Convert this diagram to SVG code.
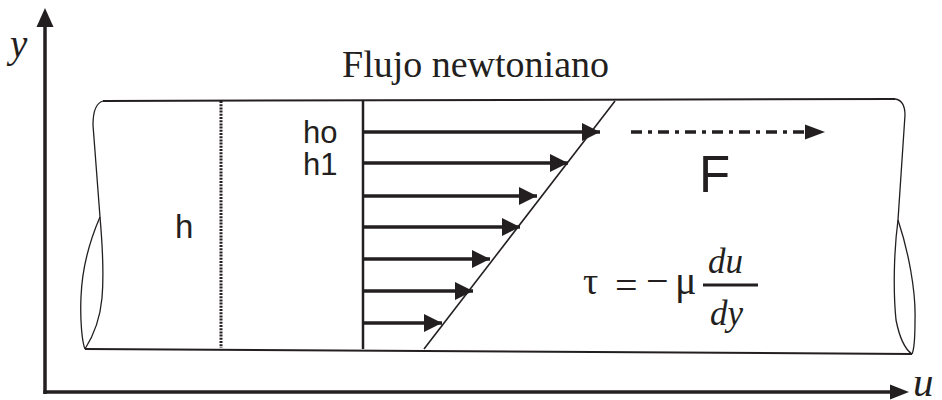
<svg xmlns="http://www.w3.org/2000/svg" width="942" height="400" viewBox="0 0 942 400">
<style>
.ln{fill:none;stroke:#231f20;stroke-linecap:butt}
.thin{stroke-width:1.3}
.ax{stroke-width:3.5}
.vel{stroke-width:3.4}
.sans{font-family:"Liberation Sans",Arial,sans-serif;fill:#231f20}
.serif{font-family:"Liberation Serif","Times New Roman",serif;fill:#231f20}
.it{font-style:italic}
.hd{fill:#231f20}
</style>
<defs>
<marker id="ah" markerUnits="userSpaceOnUse" markerWidth="19" markerHeight="19" refX="18" refY="9" orient="auto">
<path d="M0,0 L18,9 L0,18 Z" fill="#231f20"/>
</marker>
</defs>
<rect width="942" height="400" fill="#fff"/>

<g id="axes">
<line class="ln ax" x1="45" y1="24" x2="45" y2="394"/>
<polygon class="hd" points="45,8 36.5,27 53.5,27"/>
<line class="ln ax" x1="43.3" y1="392" x2="892" y2="392"/>
<polygon class="hd" points="909,392 890,384.5 890,399.5"/>
<text class="serif it" x="10" y="57" font-size="39">y</text>
<text class="serif it" x="913" y="396" font-size="41">u</text>
</g>

<g id="tube">
<path class="ln" stroke-width="2" d="M103,101 L895,99"/>
<path class="ln" stroke-width="2" d="M85,349 L912,354"/>
<path class="ln thin" d="M103,101 C96,103 93,112 93,125 L100,217 C102,240 104,275 102,298 C100,320 92,338 85,349"/>
<path class="ln thin" d="M100,217 C90,240 82,270 81,297 C80,320 82,342 85,349"/>
<path class="ln thin" d="M895,99 C902,100 905,106 905,115 L898,220 C908,250 916,290 915,320 C915,340 914,350 912,354"/>
<path class="ln thin" d="M898,220 C894,250 893,290 896,320 C900,340 906,350 912,354"/>
</g>

<g id="title">
<text class="serif" x="342" y="77" font-size="38">Flujo newtoniano</text>
</g>

<g id="h-line">
<line class="ln" x1="221" y1="101" x2="221" y2="348" stroke-width="3" stroke-dasharray="2 1.2"/>
<text class="sans" x="175" y="238" font-size="33">h</text>
</g>

<g id="profile">
<line class="ln" x1="363" y1="101" x2="363" y2="349" stroke-width="2.5"/>
<line class="ln" x1="615" y1="101" x2="424" y2="349" stroke-width="1.6"/>
<text class="sans" x="303" y="143" font-size="31">ho</text>
<text class="sans" x="303" y="175" font-size="31">h1</text>
</g>

<g id="connectors">
<line class="ln vel" x1="363" y1="132" x2="600" y2="132" marker-end="url(#ah)"/>
<line class="ln vel" x1="363" y1="163" x2="568" y2="163" marker-end="url(#ah)"/>
<line class="ln vel" x1="363" y1="196" x2="537" y2="196" marker-end="url(#ah)"/>
<line class="ln vel" x1="363" y1="227" x2="520" y2="227" marker-end="url(#ah)"/>
<line class="ln vel" x1="363" y1="259" x2="490" y2="259" marker-end="url(#ah)"/>
<line class="ln vel" x1="363" y1="291" x2="473" y2="291" marker-end="url(#ah)"/>
<line class="ln vel" x1="363" y1="323" x2="442" y2="323" marker-end="url(#ah)"/>
</g>

<g id="force">
<line class="ln" x1="631" y1="132" x2="808" y2="132" stroke-width="3.5" stroke-dasharray="11 6 4 6"/>
<polygon class="hd" points="825,132 805,124.5 805,139.5"/>
<text class="sans" x="699" y="192" font-size="51">F</text>
</g>

<g id="formula">
<text class="serif" x="583" y="294" font-size="38">τ</text>
<text class="serif" x="615" y="299" font-size="40">=</text>
<text class="serif" x="646" y="294" font-size="40">−</text>
<text class="serif" x="675" y="294" font-size="40">μ</text>
<line class="ln" x1="703" y1="285" x2="758" y2="285" stroke-width="3"/>
<text class="serif it" x="708" y="273" font-size="35">du</text>
<text class="serif it" x="710" y="325" font-size="35">dy</text>
</g>
</svg>
